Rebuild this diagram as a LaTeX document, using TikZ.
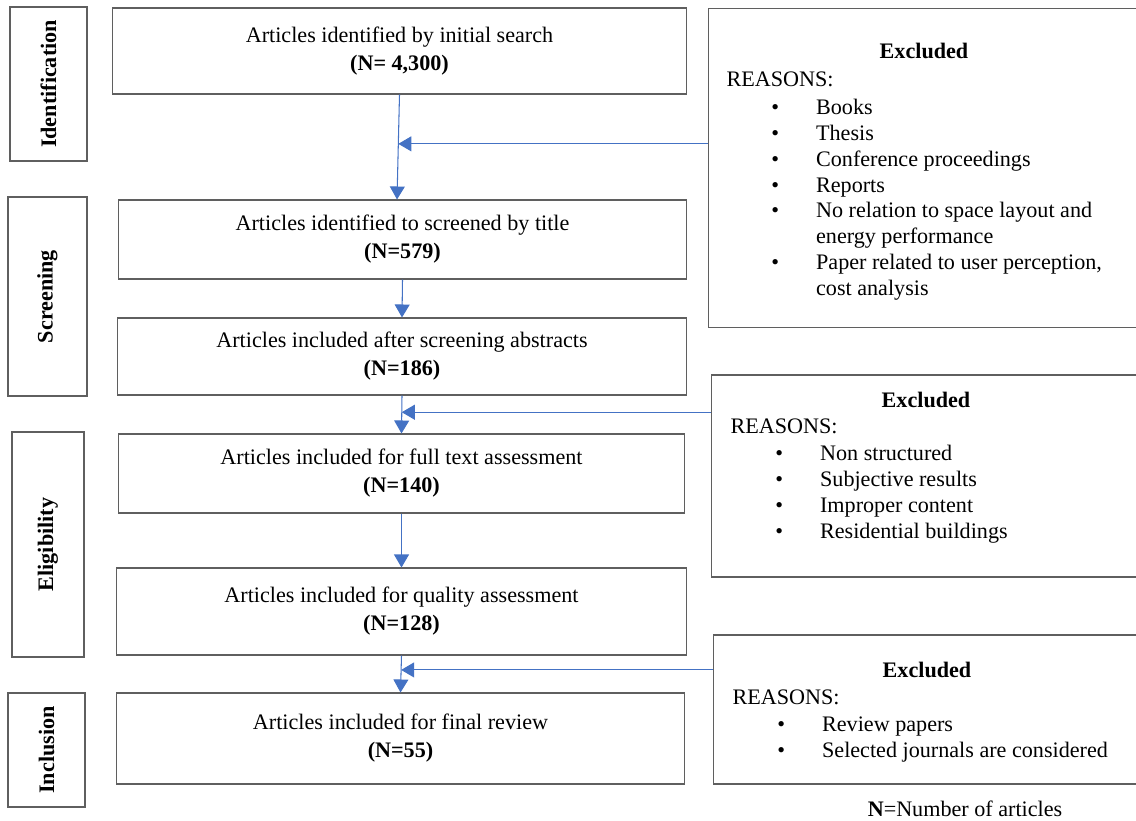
\documentclass[tikz,border=0pt]{standalone}
\usepackage{fontspec}
\setmainfont{Liberation Serif}
\usetikzlibrary{arrows.meta,calc}
\definecolor{boxline}{HTML}{5F5F5F}
\definecolor{flowblue}{HTML}{4472C4}
\newcommand\reason[1]{\hspace*{25.5pt}\makebox[25.5pt][l]{\textbullet}#1}
\newcommand\reasoncont[1]{\hspace*{51pt}#1}
\newcommand\reasonlist[1]{\begin{tabular}[t]{@{}l@{}}#1\end{tabular}}
\begin{document}
\begin{tikzpicture}[x=0.02cm, y=-0.02cm, line width=0.6pt,
    every node/.style={font=\fontsize{12.6}{14.7}\selectfont, inner sep=0pt},
    stagebox/.style={draw=boxline, rotate=90, font=\fontsize{12.6}{14.7}\selectfont\bfseries},
    stepbox/.style={draw=boxline, align=center, font=\fontsize{12.6}{16}\selectfont},
    exclbox/.style={draw=boxline},
    reasons/.style={anchor=base west},
    flow/.style={draw=flowblue, -{Triangle[length=7.4pt,width=8.5pt]}}]
  \useasboundingbox (0,0) rectangle (1136,821);
  % stages
    \node [stagebox, minimum width=3.08cm, minimum height=1.54cm] (s1) at (48.5,84) {Identification};
  \node [stagebox, minimum width=3.98cm, minimum height=1.58cm] (s2) at (47.5,296.5) {Screening};
  \node [stagebox, minimum width=4.5cm, minimum height=1.44cm] (s3) at (48,544.5) {Eligibility};
  \node [stagebox, minimum width=2.28cm, minimum height=1.54cm] (s4) at (46.5,750) {Inclusion};
  % flow
    \node [stepbox, minimum width=11.5cm, minimum height=1.72cm] (b1) at (399.5,51) {Articles identified by initial search\\\textbf{(N= 4,300)}};
  \node [stepbox, minimum width=11.38cm, minimum height=1.58cm] (b2) at (402.5,239.5) {Articles identified to screened by title\\\textbf{(N=579)}};
  \node [stepbox, minimum width=11.4cm, minimum height=1.54cm] (b3) at (402,356.5) {Articles included after screening abstracts\\\textbf{(N=186)}};
  \node [stepbox, minimum width=11.34cm, minimum height=1.58cm] (b4) at (401.5,473.5) {Articles included for full text assessment\\\textbf{(N=140)}};
  \node [stepbox, minimum width=11.42cm, minimum height=1.74cm] (b5) at (401.5,611.5) {Articles included for quality assessment\\\textbf{(N=128)}};
  \node [stepbox, minimum width=11.38cm, minimum height=1.82cm] (b6) at (400.5,738.5) {Articles included for final review\\\textbf{(N=55)}};
  % excluded
    \node [exclbox, minimum width=8.66cm, minimum height=6.4cm] (r1) at (924.5,168) {};
  \node [exclbox, minimum width=8.6cm, minimum height=4.04cm] (r2) at (926,476) {};
  \node [exclbox, minimum width=8.56cm, minimum height=2.98cm] (r3) at (927,709.5) {};
    \node [anchor=base, font=\fontsize{12.6}{14.7}\selectfont\bfseries] (e1) at (924,59) {Excluded};
  \node [reasons] (l1) at (726,87) {\reasonlist{REASONS:\\[1pt]\reason{Books}\\\reason{Thesis}\\\reason{Conference proceedings}\\\reason{Reports}\\\reason{No relation to space layout and}\\\reasoncont{energy performance}\\\reason{Paper related to user perception,}\\\reasoncont{cost analysis}}};
    \node [anchor=base, font=\fontsize{12.6}{14.7}\selectfont\bfseries] (e2) at (926,407) {Excluded};
  \node [reasons] (l2) at (730,433) {\reasonlist{REASONS:\\[1pt]\reason{Non structured}\\\reason{Subjective results}\\\reason{Improper content}\\\reason{Residential buildings}}};
    \node [anchor=base, font=\fontsize{12.6}{14.7}\selectfont\bfseries] (e3) at (927,677) {Excluded};
  \node [reasons] (l3) at (732,704) {\reasonlist{REASONS:\\[1pt]\reason{Review papers}\\\reason{Selected journals are considered}}};
  \node [anchor=base] (note) at (965,816) {\textbf{N}=Number of articles};
  % arrows
    \draw [flow] (b1.south) -- ([xshift=-0.11cm]b2.north);
  \draw [flow] (b2.south) -- (b3.north);
  \draw [flow] (b3.south) -- (b4.north);
  \draw [flow] (b4.south) -- (b5.north);
  \draw [flow] (b5.south) -- (b6.north);
    \coordinate (j1) at ($(b1.south)!0.47!([xshift=-0.11cm]b2.north)$);
  \coordinate (j2) at ($(b3.south)!0.44!(b4.north)$);
  \coordinate (j3) at ($(b5.south)!0.39!(b6.north)$);
    \draw [flow] (j1 -| r1.west) -- (j1);
  \draw [flow] (j2 -| r2.west) -- (j2);
  \draw [flow] (j3 -| r3.west) -- (j3);
\end{tikzpicture}
\end{document}
